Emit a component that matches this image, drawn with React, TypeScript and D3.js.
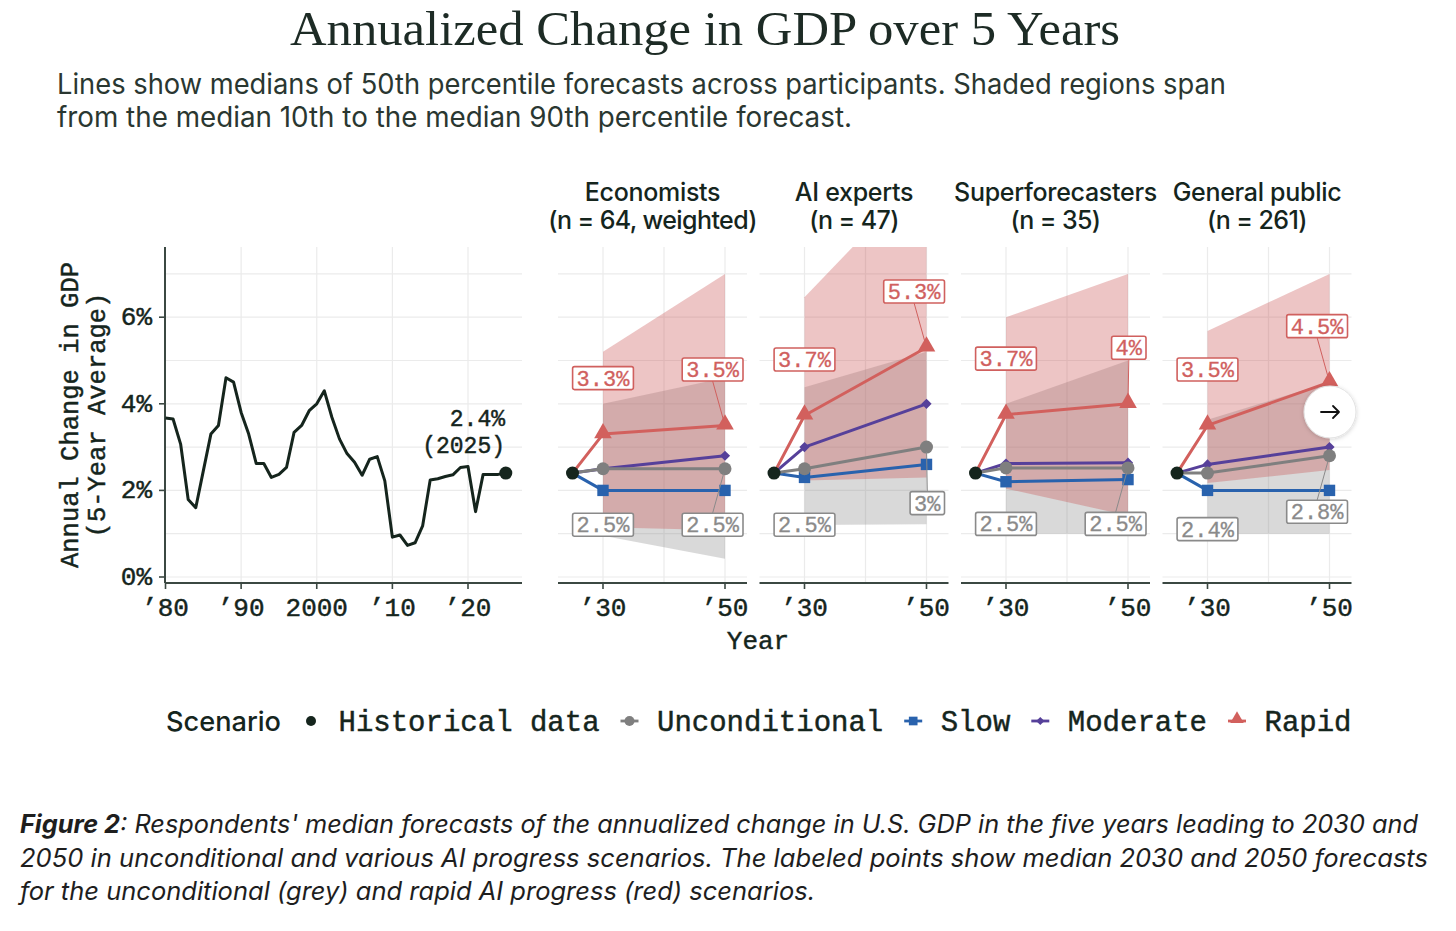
import React from "react";
import * as d3 from "d3";

// ---- data ----
const histYears = [
  1980, 1981, 1982, 1983, 1984, 1985, 1986, 1987, 1988, 1989,
  1990, 1991, 1992, 1993, 1994, 1995, 1996, 1997, 1998, 1999,
  2000, 2001, 2002, 2003, 2004, 2005, 2006, 2007, 2008, 2009,
  2010, 2011, 2012, 2013, 2014, 2015, 2016, 2017, 2018, 2019,
  2020, 2021, 2022, 2023, 2024, 2025,
];
const histGdp = [
  3.67, 3.65, 3.07, 1.79, 1.6, 2.45, 3.3, 3.5, 4.6, 4.5,
  3.8, 3.3, 2.62, 2.62, 2.3, 2.37, 2.53, 3.34, 3.5, 3.84,
  4.0, 4.3, 3.69, 3.19, 2.85, 2.65, 2.35, 2.72, 2.78, 2.22,
  0.92, 0.97, 0.73, 0.79, 1.18, 2.24, 2.27, 2.32, 2.36, 2.53,
  2.55, 1.51, 2.37, 2.37, 2.37, 2.4,
];

const groups = ["Economists", "AI experts", "Superforecasters", "General public"];
const groupNs = ["(n = 64, weighted)", "(n = 47)", "(n = 35)", "(n = 261)"];
const startYear = 2025;
const startValue = 2.4;
const forecastYears = [2030, 2050];

// median of 50th percentile forecasts [2030, 2050] per group
const unconditional = [[2.5, 2.5], [2.5, 3.0], [2.52, 2.52], [2.4, 2.8]];
const slow = [[2.0, 2.0], [2.3, 2.6], [2.2, 2.25], [2.0, 2.0]];
const moderate = [[2.5, 2.8], [3.0, 4.0], [2.62, 2.64], [2.6, 3.0]];
const rapid = [[3.3, 3.5], [3.73, 5.3], [3.75, 4.0], [3.5, 4.5]];

// median 10th / 90th percentile bands
const uncondLow = [[0.95, 0.42], [1.2, 1.22], [1.0, 1.0], [1.0, 1.0]];
const uncondHigh = [[4.0, 4.6], [4.38, 5.2], [4.0, 5.0], [3.63, 4.5]];
const rapidLow = [[1.15, 1.08], [2.23, 2.3], [2.04, 1.42], [2.17, 2.47]];
const rapidHigh = [[5.2, 7.0], [6.46, 9.4], [6.0, 7.0], [5.68, 7.0]];

const rapidLabels = [["3.3%", "3.5%"], ["3.7%", "5.3%"], ["3.7%", "4%"], ["3.5%", "4.5%"]];
const uncondLabels = [["2.5%", "2.5%"], ["2.5%", "3%"], ["2.5%", "2.5%"], ["2.4%", "2.8%"]];

const yTicks = [0, 2, 4, 6];
const yTickLabels = ["0%", "2%", "4%", "6%"];
const yGrid = [0, 1, 2, 3, 4, 5, 6, 7];
const histTicks = [1980, 1990, 2000, 2010, 2020];
const histTickLabels = ["\u201980", "\u201990", "2000", "\u201910", "\u201920"];
const panelTicks = [2030, 2050];
const panelTickLabels = ["\u201930", "\u201950"];
const panelGrid = [2030, 2040, 2050];

const legendItems = ["Historical data", "Unconditional", "Slow", "Moderate", "Rapid"];

// ---- styles ----
const ink = "#15251d";
const axisCol = "#3b4842";
const gridCol = "#ebebeb";
const cGray = "#7f7f7f";
const cSlow = "#2962ad";
const cMod = "#56409a";
const cRapid = "#d2605d";
const labRed = "#d0605e";
const labGray = "#8a8a8a";
const mono = "'Liberation Mono', 'DejaVu Sans Mono', monospace";
const sans = "Inter, 'Noto Sans', sans-serif";
const monoBold = { stroke: ink, strokeWidth: 0.45 };

const plotTop = 247;
const plotBottom = 583;
const y = d3.scaleLinear().domain([0, 7]).range([577, 273.9]);
const xHist = d3.scaleLinear().domain([1980, 2020]).range([165.5, 468]);
const histRight = 522;
const panelW = 189;
const panelLeft = (i: number) => 558 + i * 201.5;

const sym = (type: d3.SymbolType, size: number) => d3.symbol().type(type).size(size)() as string;

function Marker({ x, yy, kind, color }: { x: number; yy: number; kind: string; color: string }) {
  if (kind === "circle") return <circle cx={x} cy={yy} r={6.5} fill={color} />;
  if (kind === "square") return <path d={sym(d3.symbolSquare, 130)} transform={`translate(${x},${yy})`} fill={color} />;
  if (kind === "diamond")
    return <path d={sym(d3.symbolSquare, 52)} transform={`translate(${x},${yy}) rotate(45)`} fill={color} />;
  return <path d={sym(d3.symbolTriangle, 135)} transform={`translate(${x},${yy - 1})`} fill={color} />;
}

function LabelBox({ cx, cy, text, color }: { cx: number; cy: number; text: string; color: string }) {
  const w = text.length * 13.2 + 8;
  const h = 23;
  return (
    <g>
      <rect x={cx - w / 2} y={cy - h / 2} width={w} height={h} rx={2} fill="#fff" stroke={color} strokeWidth={1.6} />
      <text x={cx} y={cy + 7.5} textAnchor="middle" fontFamily={mono} fontSize={22} fill={color} stroke={color} strokeWidth={0.3}>
        {text}
      </text>
    </g>
  );
}

function Panel({ i }: { i: number }) {
  const pl = panelLeft(i);
  const x = d3.scaleLinear().domain([2030, 2050]).range([pl + 45, pl + 167]);
  const band = d3
    .area<number>()
    .x((_, j) => x(forecastYears[j]));
  const bandPath = (lo: number[], hi: number[]) =>
    band.y0((_, j) => y(lo[j])).y1((_, j) => y(hi[j]))(lo) as string;
  const line = d3
    .line<[number, number]>()
    .x((d) => x(d[0]))
    .y((d) => y(d[1]));
  const series = [
    { vals: slow[i], color: cSlow, kind: "square" },
    { vals: moderate[i], color: cMod, kind: "diamond" },
    { vals: unconditional[i], color: cGray, kind: "circle" },
    { vals: rapid[i], color: cRapid, kind: "triangle" },
  ];
  const labels: { cx: number; cy: number; px: number; py: number; text: string; color: string; j: number; up: boolean }[] = [];
  [0, 1].forEach((j) => {
    const px = x(forecastYears[j]);
    [
      { v: rapid[i][j], text: rapidLabels[i][j], color: labRed, up: true },
      { v: unconditional[i][j], text: uncondLabels[i][j], color: labGray, up: false },
    ].forEach((l) => {
      const py = y(l.v);
      const w = l.text.length * 13.2 + 8;
      const cx = j === 0 ? px : px + 18 - w / 2;
      const cy = l.up ? py - 56 : py + 56;
      labels.push({ cx, cy, px, py, text: l.text, color: l.color, j, up: l.up });
    });
  });
  return (
    <g>
      <defs>
        <clipPath id={`clip${i}`}>
          <rect x={pl} y={plotTop} width={panelW} height={plotBottom - plotTop} />
        </clipPath>
      </defs>
      {yGrid.map((g) => (
        <line key={g} x1={pl} x2={pl + panelW} y1={y(g)} y2={y(g)} stroke={gridCol} strokeWidth={1.2} />
      ))}
      {panelGrid.map((g) => (
        <line key={g} x1={x(g)} x2={x(g)} y1={plotTop} y2={plotBottom} stroke={gridCol} strokeWidth={1.2} />
      ))}
      <g clipPath={`url(#clip${i})`}>
        <path d={bandPath(uncondLow[i], uncondHigh[i])} fill="#808080" fillOpacity={0.3} />
        <path d={bandPath(rapidLow[i], rapidHigh[i])} fill="#c85050" fillOpacity={0.33} />
      </g>
      <line x1={pl} x2={pl + panelW} y1={plotBottom} y2={plotBottom} stroke={axisCol} strokeWidth={2} />
      {panelTicks.map((t, k) => (
        <g key={t}>
          <line x1={x(t)} x2={x(t)} y1={plotBottom} y2={plotBottom + 6} stroke={axisCol} strokeWidth={1.6} />
          <text x={x(t)} y={616} textAnchor="middle" fontFamily={mono} fontSize={26} fill={ink} {...monoBold}>
            {panelTickLabels[k]}
          </text>
        </g>
      ))}
      {series.map((s, k) => {
        const pts: [number, number][] = [[startYear, startValue], [forecastYears[0], s.vals[0]], [forecastYears[1], s.vals[1]]];
        return (
          <g key={k}>
            <path d={line(pts) as string} fill="none" stroke={s.color} strokeWidth={3} strokeLinejoin="round" />
            {[1, 2].map((p) => (
              <Marker key={p} x={x(pts[p][0])} yy={y(pts[p][1])} kind={s.kind} color={s.color} />
            ))}
          </g>
        );
      })}
      <circle cx={x(startYear)} cy={y(startValue)} r={6.5} fill={ink} />
      {labels
        .filter((l) => l.j === 1)
        .map((l, k) => {
          const ey = l.up ? l.cy + 11.5 : l.cy - 11.5;
          const ang = Math.atan2(l.py - ey, l.px - l.cx);
          return (
            <line
              key={k}
              x1={l.cx}
              y1={ey}
              x2={l.px - Math.cos(ang) * 5}
              y2={l.py - Math.sin(ang) * 5}
              stroke={l.color}
              strokeWidth={1}
            />
          );
        })}
      {labels.map((l, k) => (
        <LabelBox key={k} cx={l.cx} cy={l.cy} text={l.text} color={l.color} />
      ))}
      <text x={pl + panelW / 2} y={201} textAnchor="middle" fontFamily={sans} fontSize={25} fontWeight={500} fill={ink} letterSpacing={-0.3}>
        {groups[i]}
      </text>
      <text x={pl + panelW / 2} y={229} textAnchor="middle" fontFamily={sans} fontSize={25} fontWeight={500} fill={ink} letterSpacing={-0.6}>
        {groupNs[i]}
      </text>
    </g>
  );
}

function LegendKey({ x, k }: { x: number; k: number }) {
  const yy = 721;
  if (k === 0) return <circle cx={x} cy={yy} r={5} fill={ink} />;
  const cols = ["", cGray, cSlow, cMod, cRapid];
  return (
    <g>
      <line x1={x - 9} x2={x + 9} y1={yy} y2={yy} stroke={cols[k]} strokeWidth={2.8} />
      {k === 1 ? (
        <circle cx={x} cy={yy} r={5} fill={cGray} />
      ) : k === 2 ? (
        <path d={sym(d3.symbolSquare, 75)} transform={`translate(${x},${yy})`} fill={cols[k]} />
      ) : k === 3 ? (
        <path d={sym(d3.symbolSquare, 34)} transform={`translate(${x},${yy}) rotate(45)`} fill={cols[k]} />
      ) : (
        <path d={sym(d3.symbolTriangle, 80)} transform={`translate(${x},${yy - 2})`} fill={cols[k]} />
      )}
    </g>
  );
}

export default function App() {
  const histLine = d3
    .line<number>()
    .x((_, i) => xHist(histYears[i]))
    .y((d) => y(d));
  const lastYear = histYears[histYears.length - 1];
  const lastVal = histGdp[histGdp.length - 1];

  // legend layout
  const charW = 17.4;
  let cursor = 281;
  const legendPos = legendItems.map((t) => {
    const keyX = cursor + 30;
    const labelX = keyX + 27.5;
    cursor = labelX + t.length * charW;
    return { keyX, labelX, t };
  });

  return (
    <div>
      <style>{"body{margin:0;background:#fff}"}</style>
      <svg width={1456} height={931} style={{ display: "block" }}>
        <defs>
          <filter id="shadow" x="-50%" y="-50%" width="200%" height="200%">
            <feDropShadow dx="0" dy="1" stdDeviation="2" floodColor="#000" floodOpacity="0.18" />
          </filter>
        </defs>
        <rect width={1456} height={931} fill="#fff" />

        {/* title + subtitle */}
        <text x={290} y={45} fontFamily="'Liberation Serif', 'DejaVu Serif', serif" fontSize={48} fill="#1d2b25" textLength={830} lengthAdjust="spacingAndGlyphs">
          Annualized Change in GDP over 5 Years
        </text>
        <text x={57} y={94} fontFamily={sans} fontSize={28} fill="#2a3731" textLength={1169} lengthAdjust="spacingAndGlyphs">
          Lines show medians of 50th percentile forecasts across participants. Shaded regions span
        </text>
        <text x={57} y={127} fontFamily={sans} fontSize={28} fill="#2a3731" textLength={795} lengthAdjust="spacingAndGlyphs">
          from the median 10th to the median 90th percentile forecast.
        </text>

        {/* historical panel */}
        {yGrid.map((g) => (
          <line key={g} x1={165} x2={histRight} y1={y(g)} y2={y(g)} stroke={gridCol} strokeWidth={1.2} />
        ))}
        {histTicks.slice(1).map((t) => (
          <line key={t} x1={xHist(t)} x2={xHist(t)} y1={plotTop} y2={plotBottom} stroke={gridCol} strokeWidth={1.2} />
        ))}
        <line x1={165} x2={165} y1={plotTop} y2={plotBottom} stroke={axisCol} strokeWidth={2} />
        <line x1={165} x2={histRight} y1={plotBottom} y2={plotBottom} stroke={axisCol} strokeWidth={2} />
        {yTicks.map((t, k) => (
          <g key={t}>
            <line x1={159} x2={165} y1={y(t)} y2={y(t)} stroke={axisCol} strokeWidth={1.6} />
            <text x={152} y={y(t) + 8} textAnchor="end" fontFamily={mono} fontSize={26} fill={ink} {...monoBold}>
              {yTickLabels[k]}
            </text>
          </g>
        ))}
        {histTicks.map((t, k) => (
          <g key={t}>
            <line x1={xHist(t)} x2={xHist(t)} y1={plotBottom} y2={plotBottom + 6} stroke={axisCol} strokeWidth={1.6} />
            <text x={xHist(t)} y={616} textAnchor="middle" fontFamily={mono} fontSize={26} fill={ink} {...monoBold}>
              {histTickLabels[k]}
            </text>
          </g>
        ))}
        <path d={histLine(histGdp) as string} fill="none" stroke={ink} strokeWidth={3} strokeLinejoin="round" />
        <circle cx={xHist(lastYear)} cy={y(lastVal)} r={6.5} fill={ink} />
        <text x={505} y={426} textAnchor="end" fontFamily={mono} fontSize={23} fill={ink} {...monoBold}>
          2.4%
        </text>
        <text x={505} y={453} textAnchor="end" fontFamily={mono} fontSize={23} fill={ink} {...monoBold}>
          (2025)
        </text>

        {/* y axis title */}
        <g transform="translate(78,415) rotate(-90)">
          <text x={0} y={0} textAnchor="middle" fontFamily={mono} fontSize={25.5} fill={ink} {...monoBold}>
            Annual Change in GDP
          </text>
          <text x={0} y={27} textAnchor="middle" fontFamily={mono} fontSize={25.5} fill={ink} {...monoBold}>
            (5-Year Average)
          </text>
        </g>

        {groups.map((_, i) => (
          <Panel key={i} i={i} />
        ))}

        <text x={758} y={649} textAnchor="middle" fontFamily={mono} fontSize={26} fill={ink} {...monoBold}>
          Year
        </text>

        {/* carousel arrow button */}
        <g filter="url(#shadow)">
          <circle cx={1330} cy={412} r={26} fill="#fff" stroke="#e2e2e2" strokeWidth={1} />
        </g>
        <path d="M1321,412 H1339 M1333,406 L1339,412 L1333,418" fill="none" stroke="#111" strokeWidth={1.8} strokeLinecap="round" strokeLinejoin="round" />

        {/* legend */}
        <text x={166} y={731} fontFamily={sans} fontSize={27} fontWeight={500} fill={ink} textLength={115} lengthAdjust="spacingAndGlyphs">
          Scenario
        </text>
        {legendPos.map((p, k) => (
          <g key={k}>
            <LegendKey x={p.keyX} k={k} />
            <text x={p.labelX} y={731} fontFamily={mono} fontSize={29} fill={ink} {...monoBold}>
              {p.t}
            </text>
          </g>
        ))}

        {/* caption */}
        <text x={20} y={833} fontFamily={sans} fontSize={25} fontStyle="italic" fill="#1e1e1e" textLength={1398} lengthAdjust="spacingAndGlyphs">
          <tspan fontWeight={700}>Figure 2</tspan>: Respondents' median forecasts of the annualized change in U.S. GDP in the five years leading to 2030 and
        </text>
        <text x={20} y={867} fontFamily={sans} fontSize={25} fontStyle="italic" fill="#1e1e1e" textLength={1408} lengthAdjust="spacingAndGlyphs">
          2050 in unconditional and various AI progress scenarios. The labeled points show median 2030 and 2050 forecasts
        </text>
        <text x={20} y={900} fontFamily={sans} fontSize={25} fontStyle="italic" fill="#1e1e1e" textLength={795} lengthAdjust="spacingAndGlyphs">
          for the unconditional (grey) and rapid AI progress (red) scenarios.
        </text>
      </svg>
    </div>
  );
}
